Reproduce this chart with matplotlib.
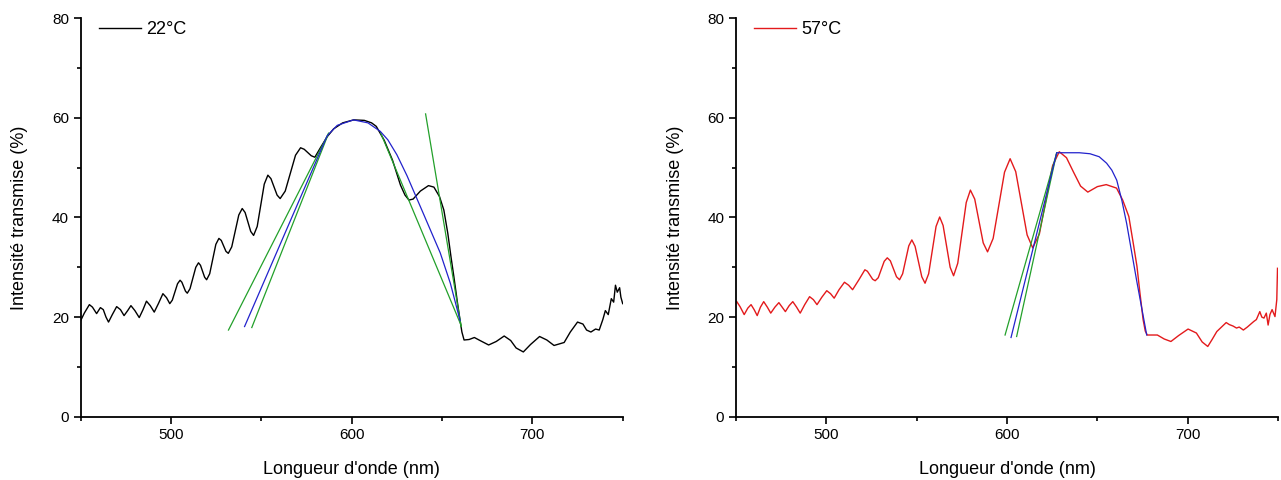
import matplotlib
matplotlib.use("Agg")
import matplotlib.pyplot as plt
from matplotlib.ticker import MultipleLocator

plt.rcParams["font.family"] = ["Liberation Sans", "DejaVu Sans"]

# --- 22 °C spectrum: (wavelength nm, transmission %) ---
spec_22 = [
    (450, 19.3), (452, 20.8), (454.8, 22.5), (456.5, 22.0), (458.8, 20.7), (460.9, 21.9),
    (462.5, 21.5), (464, 20.0), (465.4, 19.0), (467.5, 20.5), (469.9, 22.1), (472, 21.5),
    (474, 20.3), (476, 21.3), (477.8, 22.3), (480, 21.3), (482.4, 19.9), (484.5, 21.5),
    (486.4, 23.2), (488.5, 22.3), (490.7, 21.0), (493, 22.7), (495.5, 24.7), (497.5, 23.9),
    (499.3, 22.7), (500.7, 23.4), (503.6, 26.7), (505, 27.4), (506, 27.0), (508, 25.2),
    (509, 24.8), (510.5, 25.7), (513.7, 30.0), (515.2, 30.9), (516.3, 30.4), (518.6, 28.0),
    (519.7, 27.5), (521.4, 28.7), (524.8, 34.6), (526.5, 35.8), (527.8, 35.4), (530.4, 33.2),
    (531.7, 32.8), (533.6, 34.1), (537.5, 40.5), (539.4, 41.8), (541.0, 41.0), (544.1, 37.2),
    (545.7, 36.4), (547.7, 38.2), (551.6, 46.7), (553.6, 48.5), (555.3, 47.8), (558.7, 44.5),
    (560.4, 43.8), (563.2, 45.3), (568.9, 52.5), (571.7, 54.0), (573.7, 53.7), (577.6, 52.4),
    (579.6, 52.1), (583, 54.2), (586.4, 56.2), (590, 57.8), (595, 59.0), (601.1, 59.6),
    (607, 59.5), (611, 59.0), (613.6, 58.3), (618, 55.5), (622.6, 51.5), (627, 46.5),
    (629.5, 44.5), (631.7, 43.5), (634, 43.7), (638, 45.3), (642.5, 46.4), (645.5, 46.1),
    (648.6, 44.2), (651, 41.5), (653.2, 36.8), (655, 32.0), (656.6, 28.0), (658.5, 23.0),
    (660, 19.3), (661, 17.0), (662.2, 15.4), (665, 15.5), (667.9, 15.9), (671, 15.3),
    (675.8, 14.4), (680, 15.1), (684.4, 16.2), (688, 15.3), (691, 13.8), (695, 13.0),
    (699, 14.5), (704, 16.1), (708, 15.4), (712, 14.3), (717.6, 14.9), (721, 17.0),
    (725, 19.0), (728, 18.6), (730, 17.4), (732.4, 17.0), (735, 17.6), (737, 17.4),
    (739, 19.5), (740.4, 21.3), (742, 20.5), (743.7, 23.7), (745, 23.0), (746, 26.4),
    (747, 25.0), (748.3, 25.9), (749, 24.0), (750, 22.7),
]
fit_22 = [(540.7, 18.1), (586.4, 56.4), (592, 58.5), (601, 59.6), (609, 59.0), (615.8, 57.3),
          (620, 55.6), (625, 52.6), (630.6, 48.4), (640, 40.5), (649, 32.9), (654.6, 26.8),
          (660, 19.3)]
tangents_22 = [([531.8, 587.2], [17.4, 56.9]),
               ([544.7, 587.2], [17.9, 56.9]),
               ([616.0, 660.6], [57.0, 18.3]),
               ([640.9, 660.6], [60.8, 18.1])]

# --- 57 °C spectrum: (wavelength nm, transmission %) ---
spec_57 = [
    (450.4, 23.1), (452.2, 22.1), (454.5, 20.5), (456.5, 21.8), (458.3, 22.5), (460, 21.5),
    (461.7, 20.3), (463.5, 22.0), (465.3, 23.1), (467.3, 22.0), (469.2, 20.8), (471.5, 22.0),
    (473.7, 22.9), (475.5, 22.0), (477.3, 21.1), (479.4, 22.3), (481.4, 23.1), (483.5, 22.0),
    (485.5, 20.8), (488, 22.5), (490.7, 24.1), (492.8, 23.5), (494.8, 22.5), (497.5, 24.0),
    (500.2, 25.3), (502.3, 24.7), (504.3, 23.8), (507, 25.5), (510, 27.0), (512.3, 26.4),
    (514.5, 25.5), (518, 27.5), (521.3, 29.5), (522.7, 29.2), (525.6, 27.6), (527, 27.3),
    (528.7, 27.9), (532.0, 31.2), (533.7, 31.9), (535.4, 31.3), (538.8, 28.1), (540.5, 27.5),
    (542.2, 28.7), (545.6, 34.3), (547.3, 35.5), (549.1, 34.2), (552.8, 28.1), (554.6, 26.8),
    (556.6, 28.7), (560.7, 38.2), (562.7, 40.1), (564.6, 38.4), (568.5, 30.0), (570.4, 28.3),
    (572.7, 30.8), (577.4, 43.0), (579.7, 45.5), (582.1, 43.7), (586.8, 34.9), (589.2, 33.1),
    (592.3, 35.8), (598.6, 49.1), (601.7, 51.8), (604.8, 49.2), (611.1, 36.5), (614.2, 33.9),
    (617.9, 36.7), (625.2, 50.4), (628.9, 53.2), (632.9, 52.0), (636.8, 49.1), (640.7, 46.3),
    (644.7, 45.1), (650, 46.2), (654.9, 46.6), (660.6, 45.9), (664, 43.5), (667.4, 40.2),
    (670, 34.5), (671.9, 30.2), (673.5, 25.0), (675.3, 19.5), (676.5, 17.2), (677.6, 16.4),
    (683.2, 16.4), (687, 15.6), (690.7, 15.1), (695, 16.3), (700.2, 17.6), (704.8, 16.8),
    (708, 15.0), (711.1, 14.1), (713.5, 15.5), (716.1, 17.1), (721.3, 18.9), (723, 18.5),
    (725.1, 18.2), (727, 17.8), (728.5, 18.0), (730.8, 17.4), (733, 18.0), (736.5, 19.1),
    (738, 19.5), (739.9, 21.1), (741, 20.0), (742.2, 19.8), (743.5, 20.8), (744.5, 18.4),
    (745.5, 20.5), (746.7, 21.5), (748.3, 20.1), (749.3, 23.5), (749.7, 29.8),
]
fit_57 = [(602.2, 15.9), (627.5, 53.0), (640, 53.0), (645.9, 52.8), (651, 52.2), (655.1, 50.9),
          (658, 49.5), (660.7, 47.5), (663.5, 43.5), (666.2, 38.8), (671.7, 27.4), (677.3, 16.4)]
tangents_57 = [([598.9, 627.5], [16.4, 53.0]),
               ([605.3, 627.5], [16.1, 53.0])]

BLUE, GREEN = "#2222cc", "#22a02a"


def panel(ax, spec, color, label, fit, tangents):
    wl, t = zip(*spec)
    ax.plot(wl, t, color=color, lw=1.0, label=label)
    for xs, ys in tangents:
        ax.plot(xs, ys, color=GREEN, lw=0.9)
    fx, fy = zip(*fit)
    ax.plot(fx, fy, color=BLUE, lw=0.9)
    ax.set_xlim(450, 750)
    ax.set_ylim(0, 80)
    ax.xaxis.set_major_locator(MultipleLocator(100))
    ax.xaxis.set_minor_locator(MultipleLocator(50))
    ax.yaxis.set_major_locator(MultipleLocator(20))
    ax.yaxis.set_minor_locator(MultipleLocator(10))
    ax.spines[["top", "right"]].set_visible(False)
    for s in ("left", "bottom"):
        ax.spines[s].set_linewidth(1.3)
    ax.tick_params(which="major", direction="out", length=5, width=1.2, labelsize=11)
    ax.tick_params(which="minor", direction="out", length=3, width=1.2)
    ax.set_xlabel("Longueur d'onde (nm)", fontsize=13, labelpad=13)
    ax.set_ylabel("Intensité transmise (%)", fontsize=13, labelpad=17)
    ax.legend(loc="upper left", bbox_to_anchor=(0.034, 0.993), frameon=False,
              fontsize=13, borderpad=0, borderaxespad=0,
              handlelength=2.3, handletextpad=0.3)


fig = plt.figure(figsize=(12.81, 4.8), dpi=100)
ax1 = fig.add_axes([0.0630, 0.1319, 0.4231, 0.830])
ax2 = fig.add_axes([0.5746, 0.1319, 0.4231, 0.830])
panel(ax1, spec_22, "black", "22°C", fit_22, tangents_22)
panel(ax2, spec_57, "#e31a1c", "57°C", fit_57, tangents_57)

fig.savefig("out.png", dpi=100)
